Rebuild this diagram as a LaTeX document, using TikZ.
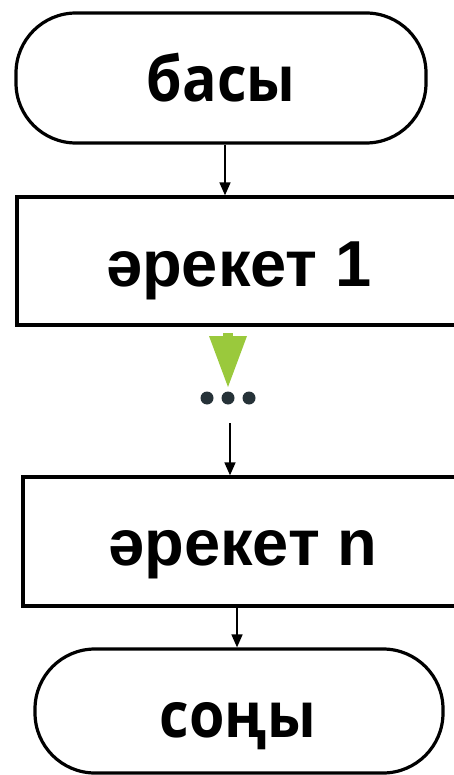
\documentclass[tikz,border=0pt]{standalone}
\usepackage{fontspec}
\setmainfont{Liberation Sans}
\newfontfamily\opensans[FakeStretch=0.91]{Open Sans}
\newfontfamily\arialb{Liberation Sans Bold}
\usetikzlibrary{arrows.meta}
\definecolor{arrgreen}{RGB}{154,201,60}
\definecolor{dotdark}{RGB}{38,50,56}
\tikzset{
  term/.style={draw=black, line width=3.2pt, rounded corners=60pt, inner sep=0pt},
  procbox/.style={draw=black, line width=3.3pt, inner sep=0pt},
  flowarrow/.style={line width=1.7pt, -{Triangle[length=13pt,width=11pt]}},
  termtext/.style={anchor=base, inner sep=0pt, font=\opensans\bfseries\fontsize{63}{63}\selectfont},
  proctext/.style={anchor=base, inner sep=0pt, font=\arialb\fontsize{65}{65}\selectfont},
  dotstyle/.style={circle, fill=dotdark, minimum size=13pt, inner sep=0pt}
}
\begin{document}
\begin{tikzpicture}[x=1pt,y=-1pt]
\useasboundingbox (0,0) rectangle (454,775);
\clip (0,0) rectangle (454,775);
% shapes
\node[term, minimum width=410pt, minimum height=130pt] (start) at (221,78) {};
\node[procbox, minimum width=444pt, minimum height=128pt] (act1) at (239,261) {};
\node[procbox, minimum width=440pt, minimum height=129pt] (actn) at (243,541.5) {};
\node[term, minimum width=408pt, minimum height=124pt] (stop) at (239,711) {};
% texts
\node[termtext] (tstart) at (221,102) {басы};
\node[proctext] (tact1) at (239,287) {әрекет 1};
\node[proctext] (tactn) at (243,565) {әрекет n};
\node[termtext] (tstop) at (238,737) {соңы};
% green arrow and dots
\fill[arrgreen] (223,333) rectangle (233,337);
\fill[arrgreen] (209,336) -- (247,336) -- (228,387) -- cycle;
\node[dotstyle] (d1) at (207,398) {};
\node[dotstyle] (d2) at (228,398) {};
\node[dotstyle] (d3) at (249,398) {};
% connectors
\coordinate (c1) at (225,0);
\coordinate (c2) at (230,423);
\coordinate (c3) at (237,0);
\draw[flowarrow] (start.south -| c1) -- (act1.north -| c1);
\draw[flowarrow] (c2) -- (actn.north -| c2);
\draw[flowarrow] (actn.south -| c3) -- (stop.north -| c3);
\end{tikzpicture}
\end{document}
